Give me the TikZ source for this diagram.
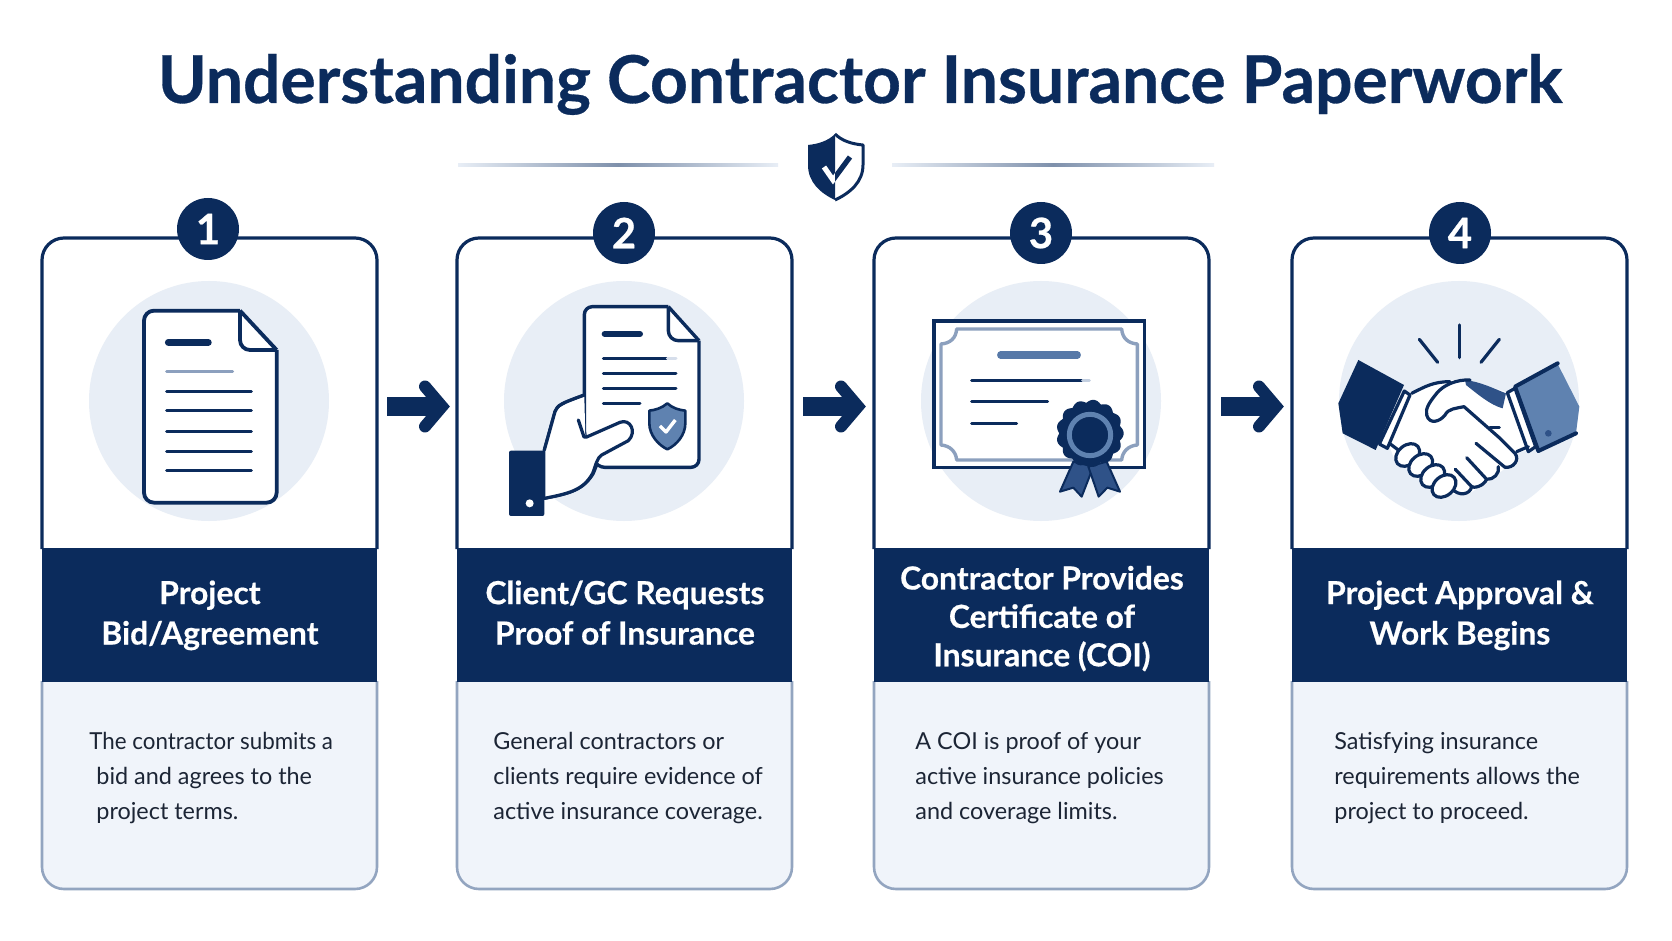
\documentclass[tikz,border=0pt]{standalone}
\usepackage{fontspec}
\setmainfont{Lato}[BoldFeatures={FakeBold=0.5}]
\usetikzlibrary{calc}
\definecolor{navy}{HTML}{0B2B5C}
\definecolor{midblue}{HTML}{5F82B0}
\definecolor{steel}{HTML}{2F5288}
\definecolor{disc}{HTML}{E8EEF6}
\definecolor{panel}{HTML}{F0F4FA}
\definecolor{edge}{HTML}{93A5C0}
\definecolor{framec}{HTML}{8CA0BE}
\definecolor{ink}{HTML}{1C2535}
\tikzset{
  x=0.5pt, y=-0.5pt,
  topedge/.style={draw=navy, line width=1.6pt, rounded corners=11pt},
  lowedge/.style={draw=edge, line width=1.3pt, fill=panel, rounded corners=11pt},
  cardbox/.style={minimum width=167.5pt, minimum height=325.5pt, inner sep=0pt, anchor=north west},
  bandbox/.style={fill=navy, text=white, minimum width=167.5pt, minimum height=67pt, inner sep=0pt,
    anchor=north west, align=center, font=\fontsize{15.9}{20.2}\selectfont\bfseries},
  bandtight/.style={font=\fontsize{15.9}{19.2}\selectfont\bfseries},
  bodytext/.style={text=ink, inner sep=0pt, anchor=north west, align=left,
    font=\fontsize{11.7}{17.4}\selectfont},
  numdisc/.style={circle, fill=navy, text=white, minimum size=31pt, inner sep=0pt,
    font=\fontsize{21}{21}\selectfont\bfseries},
  backdisc/.style={circle, fill=disc, minimum size=120pt, inner sep=0pt},
  flowshaft/.style={line width=9.5pt, draw=navy},
  flowhead/.style={line width=6pt, draw=navy, line cap=round, line join=miter},
  iconline/.style={draw=navy, line width=1.5pt, line cap=round},
  icontitle/.style={draw=navy, line width=3.4pt, line cap=round},
  outline/.style={draw=navy, line width=1.9pt, fill=white, line join=round},
  handline/.style={draw=navy, line width=1.6pt, line cap=round, line join=round},
}
\newcommand{\cardframe}[2]{%
  \node[cardbox] (card#1) at (#2,238) {};
  \draw[topedge, fill=white] (#2,549) -- (#2,238) -- (#2+335,238) -- (#2+335,549);
  \draw[lowedge] (#2,681) -- (#2,889) -- (#2+335,889) -- (#2+335,681);
}
\newcommand{\flowarrow}[2]{%
  \coordinate (from#1) at (#2,406.5);
  \coordinate (to#1) at (#2+55,406.5);
  \draw[flowshaft] (from#1) -- (to#1);
  \draw[flowhead] ($(to#1)+(-17,-20)$) -- (to#1) -- ($(to#1)+(-17,20)$);
}
\newcommand{\dn}{\vphantom{g}}
\begin{document}
\begin{tikzpicture}
\useasboundingbox (0,0) rectangle (1672,941);
\fill[white] (0,0) rectangle (1672,941);

% heading
\node[inner sep=0pt, anchor=base, text=navy, font=\fontsize{33}{37}\selectfont\bfseries] (heading) at (860,103)
  {Understanding Contractor Insurance Paperwork};

% rule either side of the shield
\coordinate (ruleA) at (458,163.5);
\coordinate (ruleB) at (778,166.5);
\coordinate (ruleC) at (892,163.5);
\coordinate (ruleD) at (1214,166.5);
\shade[left color=disc, right color=disc, middle color=framec!90!black] (ruleA) rectangle (ruleB);
\shade[left color=disc, right color=disc, middle color=framec!90!black] (ruleC) rectangle (ruleD);

% shield emblem
\path[fill=white] (835,134) .. controls (842,141) and (852,144) .. (863,145) -- (863,165) .. controls (863,182) and (850,193) .. (835,200) .. controls (820,193) and (808,182) .. (808,165) -- (808,145) .. controls (818,144) and (828,141) .. (835,134) -- cycle;
\begin{scope}
  \clip (800,125) rectangle (835,205);
  \fill[navy] (835,134) .. controls (828,141) and (818,144) .. (808,145) -- (808,165) .. controls (808,182) and (820,193) .. (835,200) -- cycle;
  \draw[white, line width=2.6pt] (824,167) -- (833,180) -- (850,157);
\end{scope}
\begin{scope}
  \clip (835,125) rectangle (870,205);
  \draw[navy, line width=2.6pt] (824,167) -- (833,180) -- (850,157);
\end{scope}
\draw[navy, line width=1.5pt, line join=round] (835,134) .. controls (842,141) and (852,144) .. (863,145) -- (863,165) .. controls (863,182) and (850,193) .. (835,200);

% card frames
\cardframe{1}{42}
\cardframe{2}{457}
\cardframe{3}{874}
\cardframe{4}{1292}

% discs behind the icons
\node[backdisc] (disc1) at (209,401) {};
\node[backdisc] (disc2) at (624,401) {};
\node[backdisc] (disc3) at (1041,401) {};
\node[backdisc] (disc4) at (1459,401) {};

% step numbers
\node[numdisc] (num1) at (208,229) {1};
\node[numdisc] (num2) at (624,233) {2};
\node[numdisc] (num3) at (1041,233) {3};
\node[numdisc] (num4) at (1460,233) {4};

% title bands
\node[bandbox] (band1) at (42,548) {Project\\Bid/Agreement\dn};
\node[bandbox] (band2) at (457,548) {Client/GC Requests\\Proof of Insurance\dn};
\node[bandbox, bandtight] (band3) at (874,548) {\rule{0pt}{15pt}Contractor Provides\\Certificate of\\Insurance (COI)};
\node[bandbox] (band4) at (1292,548) {Project Approval \&\\Work Begins\dn};

% descriptions
\node[bodytext] (text1) at (89,732) {\scalebox{0.955}[1]{The contractor submits a}\\\hspace*{3.5pt}bid and agrees to the\\\hspace*{3.5pt}project terms.};
\node[bodytext] (text2) at (493,732) {General contractors or\\clients require evidence of\\active insurance coverage.};
\node[bodytext] (text3) at (915,732) {A COI is proof of your\\active insurance policies\\and coverage limits.};
\node[bodytext] (text4) at (1334,732) {Satisfying insurance\\requirements allows the\\project to proceed.};

% arrows between cards
\flowarrow{1}{387}
\flowarrow{2}{803}
\flowarrow{3}{1221}

% icon 1: document
\begin{scope}[shift={(0,190)}, scale=1/3]
  \draw[outline, rounded corners=5pt] (720,362) -- (432,362) -- (432,938) -- (830,938) -- (830,480);
  \path[fill=white] (720,362) -- (830,480) -- (735,480) -- (720,462) -- cycle;
  \draw[outline] (720,362) -- (830,480);
  \draw[outline, rounded corners=5pt, fill=none] (720,362) -- (720,480) -- (830,480);
  \draw[icontitle] (505,457) -- (625,457);
  \draw[iconline, draw=framec] (500,544) -- (698,544);
  \foreach \ly in {605,663,724,784,842} \draw[iconline] (500,\ly) -- (754,\ly);
\end{scope}

% icon 2: hand holding a document with a shield
\begin{scope}[shift={(440,190)}, scale=1/3]
  \path[fill=white, draw=navy, line width=1.6pt, line join=round] (313,780) -- (345,665) .. controls (352,645) and (365,640) .. (433,615) -- (433,740) -- (480,800) -- (460,850) .. controls (430,900) and (390,910) .. (313,925) -- cycle;
  \draw[outline, line width=1.7pt, rounded corners=4pt] (685,350) -- (433,350) -- (433,740) -- (470,832) -- (777,832) -- (777,452);
  \path[fill=white] (685,350) -- (777,452) -- (700,452) -- (685,435) -- cycle;
  \draw[outline, line width=1.7pt] (685,350) -- (777,452);
  \draw[outline, line width=1.7pt, rounded corners=5pt, fill=none] (685,350) -- (685,452) -- (777,452);
  \draw[icontitle, line width=3pt] (494,432) -- (600,432);
  \draw[iconline] (490,505) -- (682,505);
  \draw[iconline, draw=disc!80!framec] (682,505) -- (708,505);
  \draw[iconline] (490,550) -- (708,550);
  \draw[iconline] (490,595) -- (708,595);
  \draw[iconline] (490,641) -- (600,641);
  % shield badge
  \draw[fill=midblue, draw=navy, line width=1.3pt, line join=round] (682,640) .. controls (698,655) and (718,660) .. (736,662) -- (736,700) .. controls (736,735) and (710,765) .. (682,778) .. controls (655,765) and (628,735) .. (628,700) -- (628,662) .. controls (645,660) and (665,655) .. (682,640) -- cycle;
  \draw[white, line width=1.7pt, line join=round] (660,708) -- (678,726) -- (706,690);
  % palm and thumb over the sheet
  \path[fill=white] (380,640) -- (433,620) -- (436,742) -- (545,695) .. controls (570,685) and (590,725) .. (570,750) -- (480,800) -- (460,850) .. controls (430,900) and (390,910) .. (316,922) -- (316,780) -- (345,665) -- cycle;
  \draw[handline] (415,690) -- (432,741) -- (440,741) -- (540,697) .. controls (570,685) and (592,725) .. (565,752) -- (485,795) .. controls (470,805) and (468,825) .. (458,850) .. controls (430,900) and (390,910) .. (313,925);
  \draw[handline] (313,780) -- (345,665) .. controls (352,645) and (365,640) .. (433,615);
  % sleeve
  \fill[navy, rounded corners=1pt] (207,782) rectangle (313,978);
  \fill[white] (269,940) circle (12);
\end{scope}

% icon 3: certificate with rosette
\begin{scope}[shift={(860,190)}, scale=1/3]
  \draw[outline, line width=1.7pt, line join=miter] (222,393) rectangle (853,832);
  \draw[draw=framec, line width=1.7pt, line join=round] (290,417) -- (785,417) .. controls (787,445) and (805,460) .. (832,462) -- (832,765) .. controls (805,767) and (787,785) .. (785,810) -- (290,810) .. controls (288,785) and (270,767) .. (243,765) -- (243,462) .. controls (270,460) and (288,445) .. (290,417) -- cycle;
  \draw[midblue!90!navy, line width=3.6pt, line cap=round] (422,495) -- (652,495);
  \draw[iconline] (335,573) -- (668,573);
  \draw[iconline, draw=disc!60!framec] (668,573) -- (688,573);
  \draw[iconline] (335,636) -- (563,636);
  \draw[iconline] (335,701) -- (470,701);
  % ribbon tails
  \draw[fill=steel, draw=navy, line width=1pt, line join=round] (640,815) -- (600,905) -- (640,893) -- (665,920) -- (700,830) -- cycle;
  \draw[fill=steel, draw=navy, line width=1pt, line join=round] (740,815) -- (780,905) -- (742,893) -- (716,920) -- (685,830) -- cycle;
  % rosette
  \fill[navy] plot[domain=0:360, samples=240] ({690+(92+9*abs(cos(6.5*\x)))*cos(\x)}, {730+(92+9*abs(cos(6.5*\x)))*sin(\x)}) -- cycle;
  \draw[draw=midblue, line width=2.5pt] (690,735) circle (62);
\end{scope}

% icon 4: handshake
\begin{scope}[shift={(1270,190)}, scale=1/3]
  % left sleeve
  \fill[navy] (265,510) -- (402,585) -- (317,780) -- (218,730) -- (205,640) -- cycle;
  % right sleeve
  \path[fill=midblue] (863,522) -- (735,590) -- (805,783) -- (918,730) -- (928,650) -- cycle;
  \draw[handline, line width=2pt] (863,520) -- (735,590) -- (805,783) -- (918,730);
  \fill[steel] (835,730) circle (10);
  % overall hands silhouette
  \path[fill=white] (415,610) .. controls (460,590) and (500,570) .. (590,568) -- (705,605) -- (775,780) -- (740,790) -- (742,820) -- (705,835) -- (655,875) -- (590,915) -- (520,910) -- (370,800) -- (355,760) -- cycle;
  % cuffs
  \draw[fill=white, handline] (403,603) -- (420,615) -- (352,775) -- (328,762) -- cycle;
  \draw[fill=white, handline] (712,608) -- (735,595) -- (797,770) -- (775,785) -- cycle;
  % wrist and upper edge of the left hand
  \draw[handline] (358,760) -- (385,780);
  \draw[handline] (425,610) .. controls (465,590) and (490,575) .. (540,575);
  % shaded edge of the right hand
  \fill[steel] (585,570) .. controls (630,575) and (670,595) .. (708,610) -- (698,655) .. controls (660,645) and (620,610) .. (588,585) -- cycle;
  % thumb and fingers of the right hand
  \draw[handline] (600,570) .. controls (560,568) and (520,585) .. (500,610) .. controls (480,635) and (465,655) .. (470,675) .. controls (478,705) and (510,695) .. (525,675) .. controls (535,655) and (560,655) .. (582,650) -- (690,745) -- (735,790) .. controls (750,810) and (730,835) .. (705,832) -- (618,760);
  \draw[handline] (685,830) .. controls (690,850) and (670,870) .. (650,868) -- (590,803);
  \draw[handline] (650,868) .. controls (640,890) and (610,895) .. (605,890) -- (556,838);
  \draw[handline] (605,890) .. controls (600,915) and (565,920) .. (545,895);
  \draw[handline] (660,712) -- (688,712);
  \draw[handline] (740,785) -- (775,770);
  % knuckles of the left hand
  \foreach \fx/\fy in {413/795, 452/825, 488/858, 522/888} {
    \draw[fill=white, handline, rotate around={40:(\fx,\fy)}] (\fx,\fy) ellipse (40 and 29);
  }
  % sparkle strokes
  \draw[handline] (448,448) -- (503,517);
  \draw[handline] (568,405) -- (568,503);
  \draw[handline] (688,448) -- (633,517);
\end{scope}
\end{tikzpicture}
\end{document}
